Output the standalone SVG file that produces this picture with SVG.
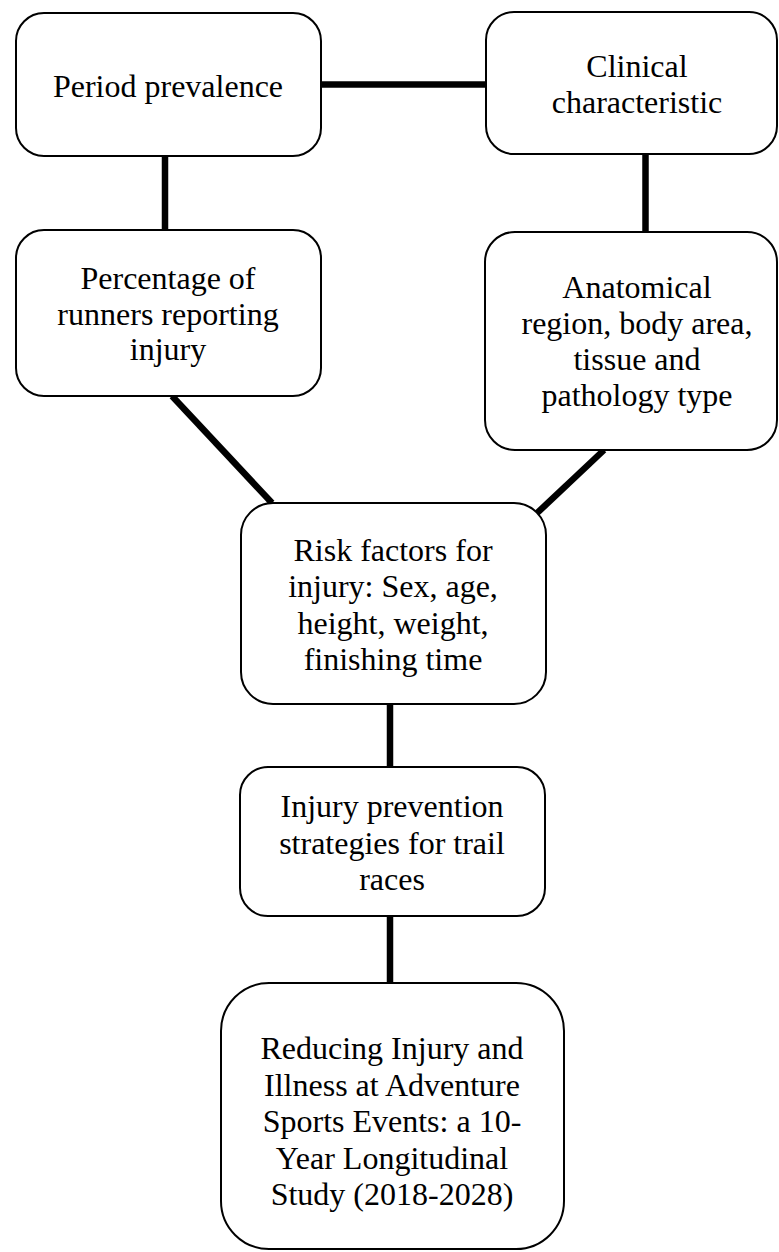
<svg xmlns="http://www.w3.org/2000/svg" width="779" height="1252" viewBox="0 0 779 1252">
<style>
.box{fill:#fff;stroke:#000;stroke-width:2}
.lbl{font-family:"Liberation Serif","Times New Roman",serif;font-size:32px;fill:#000;text-anchor:middle}
.con{stroke:#000;stroke-width:6.5;fill:none;stroke-linecap:butt}
</style>
<rect width="779" height="1252" fill="#fff"/>
<g id="connectors">
<line class="con" x1="321" y1="84.5" x2="486" y2="84.5"/>
<line class="con" x1="165" y1="156" x2="165" y2="230"/>
<line class="con" x1="645.5" y1="154" x2="645.5" y2="232"/>
<line class="con" x1="172" y1="396" x2="272" y2="503"/>
<line class="con" x1="604" y1="450" x2="535" y2="515"/>
<line class="con" x1="390" y1="704" x2="390" y2="767"/>
<line class="con" x1="390" y1="916" x2="390" y2="983"/>
</g>
<g id="period">
<rect class="box" x="16" y="13" width="305" height="143" rx="28"/>
<text class="lbl" x="168" y="97">Period prevalence</text>
</g>
<g id="clinical">
<rect class="box" x="486" y="12" width="291" height="142" rx="28"/>
<text class="lbl" x="637" y="77">Clinical</text>
<text class="lbl" x="637" y="113">characteristic</text>
</g>
<g id="percentage">
<rect class="box" x="16" y="230" width="305" height="166" rx="28"/>
<text class="lbl" x="168" y="289">Percentage of</text>
<text class="lbl" x="168" y="325">runners reporting</text>
<text class="lbl" x="168" y="360">injury</text>
</g>
<g id="anatomical">
<rect class="box" x="485" y="232" width="292" height="218" rx="30"/>
<text class="lbl" x="637" y="298">Anatomical</text>
<text class="lbl" x="637" y="334">region, body area,</text>
<text class="lbl" x="637" y="370">tissue and</text>
<text class="lbl" x="637" y="406">pathology type</text>
</g>
<g id="risk">
<rect class="box" x="241" y="503" width="305" height="201" rx="32"/>
<text class="lbl" x="393" y="561">Risk factors for</text>
<text class="lbl" x="393" y="597">injury: Sex, age,</text>
<text class="lbl" x="393" y="634">height, weight,</text>
<text class="lbl" x="393" y="670">finishing time</text>
</g>
<g id="prevention">
<rect class="box" x="240" y="767" width="305" height="149" rx="28"/>
<text class="lbl" x="392" y="817">Injury prevention</text>
<text class="lbl" x="392" y="854">strategies for trail</text>
<text class="lbl" x="392" y="890">races</text>
</g>
<g id="study">
<rect class="box" x="221" y="983" width="343" height="266" rx="48"/>
<text class="lbl" x="392" y="1059">Reducing Injury and</text>
<text class="lbl" x="392" y="1096">Illness at Adventure</text>
<text class="lbl" x="392" y="1132">Sports Events: a 10-</text>
<text class="lbl" x="392" y="1169">Year Longitudinal</text>
<text class="lbl" x="392" y="1205">Study (2018-2028)</text>
</g>
</svg>
